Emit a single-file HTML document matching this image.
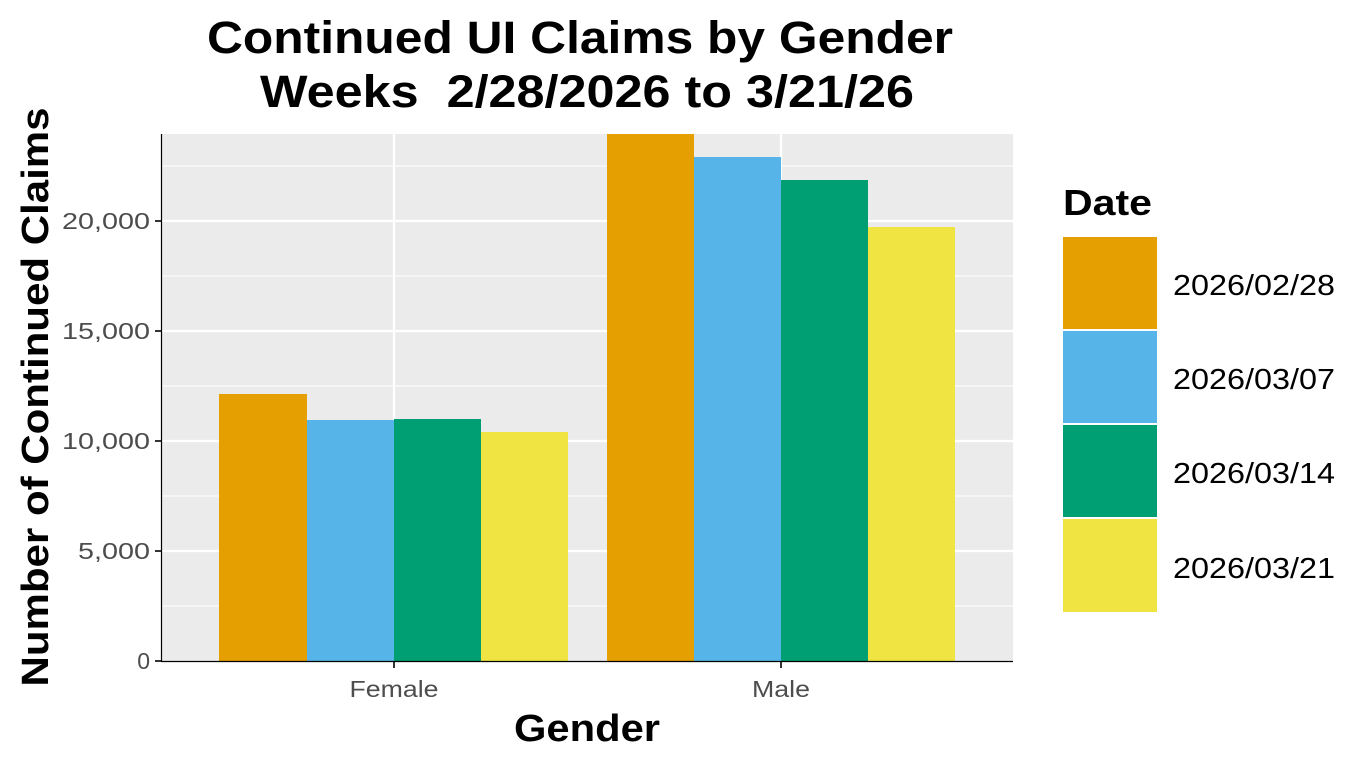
<!DOCTYPE html>
<html><head><style>body{margin:0;background:#fff}svg{display:block}</style></head><body>
<svg width="1370" height="766" xmlns="http://www.w3.org/2000/svg" font-family="Liberation Sans, Arial, sans-serif">
<rect width="1370" height="766" fill="#fff"/>
<rect x="162" y="134" width="851" height="527" fill="#ebebeb"/>
<g stroke="#fff" stroke-width="1">
<line x1="162" x2="1013" y1="606" y2="606"/><line x1="162" x2="1013" y1="496" y2="496"/>
<line x1="162" x2="1013" y1="386" y2="386"/><line x1="162" x2="1013" y1="276" y2="276"/>
<line x1="162" x2="1013" y1="166" y2="166"/></g>
<g stroke="#fff" stroke-width="2.2">
<line x1="162" x2="1013" y1="551" y2="551"/><line x1="162" x2="1013" y1="441" y2="441"/>
<line x1="162" x2="1013" y1="331" y2="331"/><line x1="162" x2="1013" y1="221" y2="221"/>
<line x1="394" x2="394" y1="134" y2="661"/><line x1="781" x2="781" y1="134" y2="661"/></g>
<rect x="219" y="394" width="88" height="267" fill="#e69f00"/>
<rect x="307" y="420" width="87" height="241" fill="#56b4e9"/>
<rect x="394" y="419" width="87" height="242" fill="#009e73"/>
<rect x="481" y="432" width="87" height="229" fill="#f0e442"/>
<rect x="607" y="134" width="87" height="527" fill="#e69f00"/>
<rect x="694" y="157" width="87" height="504" fill="#56b4e9"/>
<rect x="781" y="180" width="87" height="481" fill="#009e73"/>
<rect x="868" y="227" width="87" height="434" fill="#f0e442"/>
<line x1="161.5" x2="161.5" y1="134" y2="661" stroke="#000" stroke-width="1.2"/>
<line x1="161" x2="1013" y1="661.5" y2="661.5" stroke="#000" stroke-width="1.2"/>
<g stroke="#333" stroke-width="2">
<line x1="155" x2="161" y1="661" y2="661"/><line x1="155" x2="161" y1="551" y2="551"/>
<line x1="155" x2="161" y1="441" y2="441"/><line x1="155" x2="161" y1="331" y2="331"/>
<line x1="155" x2="161" y1="221" y2="221"/>
<line x1="394" x2="394" y1="662" y2="668"/><line x1="781" x2="781" y1="662" y2="668"/></g>
<g fill="#4d4d4d" font-size="23" text-anchor="end">
<text x="150" y="669">0</text><text x="150" y="559" textLength="72" lengthAdjust="spacingAndGlyphs">5,000</text><text x="150" y="449" textLength="88" lengthAdjust="spacingAndGlyphs">10,000</text>
<text x="150" y="339" textLength="88" lengthAdjust="spacingAndGlyphs">15,000</text><text x="150" y="229" textLength="88" lengthAdjust="spacingAndGlyphs">20,000</text></g>
<g fill="#4d4d4d" font-size="23" text-anchor="middle">
<text x="394" y="697" textLength="89" lengthAdjust="spacingAndGlyphs">Female</text><text x="781" y="697" textLength="58" lengthAdjust="spacingAndGlyphs">Male</text></g>
<text x="587" y="741" font-size="38" font-weight="bold" text-anchor="middle" textLength="146" lengthAdjust="spacingAndGlyphs">Gender</text>
<text transform="translate(48,397) rotate(-90)" font-size="38" font-weight="bold" text-anchor="middle" textLength="579" lengthAdjust="spacingAndGlyphs">Number of Continued Claims</text>
<g font-size="45" font-weight="bold" text-anchor="middle">
<text x="580" y="53" textLength="746" lengthAdjust="spacingAndGlyphs">Continued UI Claims by Gender</text>
<text x="587" y="107" xml:space="preserve" textLength="654" lengthAdjust="spacingAndGlyphs">Weeks  2/28/2026 to 3/21/26</text></g>
<text x="1063" y="215" font-size="36" font-weight="bold" textLength="89" lengthAdjust="spacingAndGlyphs">Date</text>
<rect x="1063" y="237" width="94" height="92" fill="#e69f00"/>
<rect x="1063" y="331" width="94" height="92" fill="#56b4e9"/>
<rect x="1063" y="425" width="94" height="92" fill="#009e73"/>
<rect x="1063" y="519" width="94" height="93" fill="#f0e442"/>
<g font-size="29">
<text x="1173" y="295" textLength="162" lengthAdjust="spacingAndGlyphs">2026/02/28</text><text x="1173" y="389" textLength="162" lengthAdjust="spacingAndGlyphs">2026/03/07</text>
<text x="1173" y="483" textLength="162" lengthAdjust="spacingAndGlyphs">2026/03/14</text><text x="1173" y="578" textLength="162" lengthAdjust="spacingAndGlyphs">2026/03/21</text></g>
</svg>
</body></html>
